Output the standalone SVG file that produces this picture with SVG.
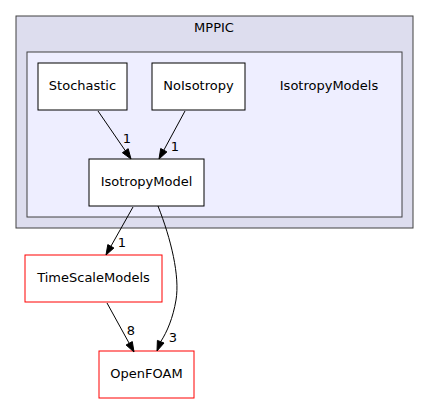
<svg xmlns="http://www.w3.org/2000/svg" width="429" height="404" viewBox="0 0 429 404">
<style>
text{font-family:"DejaVu Sans",sans-serif;font-size:13px;fill:#000}
.n{fill:#fff;stroke:#000;stroke-width:1}
.r{fill:#fff;stroke:#ff0000;stroke-width:1}
.e{fill:none;stroke:#000;stroke-width:1}
.a{fill:#000;stroke:#000;stroke-width:1}
</style>
<rect width="429" height="404" fill="#fff"/>
<g id="cluster_MPPIC">
<rect x="16" y="16" width="397" height="212" fill="#ddddee" stroke="#404040" stroke-width="1"/>
<text x="214" y="32" text-anchor="middle">MPPIC</text>
</g>
<g id="cluster_IsotropyModels">
<rect x="27" y="52" width="375" height="165" fill="#eeeeff" stroke="#404040" stroke-width="1"/>
<text x="329" y="90" text-anchor="middle">IsotropyModels</text>
</g>
<g id="node_Stochastic">
<rect class="n" x="38" y="63" width="89" height="47"/>
<text x="82.5" y="90" text-anchor="middle">Stochastic</text>
</g>
<g id="node_NoIsotropy">
<rect class="n" x="152" y="63" width="93" height="47"/>
<text x="198.5" y="90" text-anchor="middle">NoIsotropy</text>
</g>
<g id="node_IsotropyModel">
<rect class="n" x="89" y="159" width="115" height="47"/>
<text x="146.5" y="186" text-anchor="middle">IsotropyModel</text>
</g>
<g id="node_TimeScaleModels">
<rect class="r" x="25" y="255" width="137" height="47"/>
<text x="93.5" y="282" text-anchor="middle">TimeScaleModels</text>
</g>
<g id="node_OpenFOAM">
<rect class="r" x="99" y="351" width="95" height="47"/>
<text x="146.5" y="378" text-anchor="middle">OpenFOAM</text>
</g>
<g id="connectors">
<path class="e" d="M98,111 L125.3,150.7"/>
<polygon class="a" points="122.4,152.7 131,159 128.2,148.7"/>
<text x="127" y="143" text-anchor="middle">1</text>
<path class="e" d="M185,111 L163.8,150.2"/>
<polygon class="a" points="166.9,151.9 159,159 160.7,148.5"/>
<text x="175" y="151" text-anchor="middle">1</text>
<path class="e" d="M133,207 L110.9,246.3"/>
<polygon class="a" points="113.9,248 106,255 107.8,244.6"/>
<text x="122" y="247" text-anchor="middle">1</text>
<path class="e" d="M158,206 C171,239 180,276 176,300 C173,318 167,332 160.7,341.7"/>
<polygon class="a" points="164,343 157,351 157.4,340.4"/>
<text x="173" y="342" text-anchor="middle">3</text>
<path class="e" d="M107,303 L129.2,343.3"/>
<polygon class="a" points="126.1,345 134,352 132.3,341.6"/>
<text x="131" y="335" text-anchor="middle">8</text>
</g>
</svg>
